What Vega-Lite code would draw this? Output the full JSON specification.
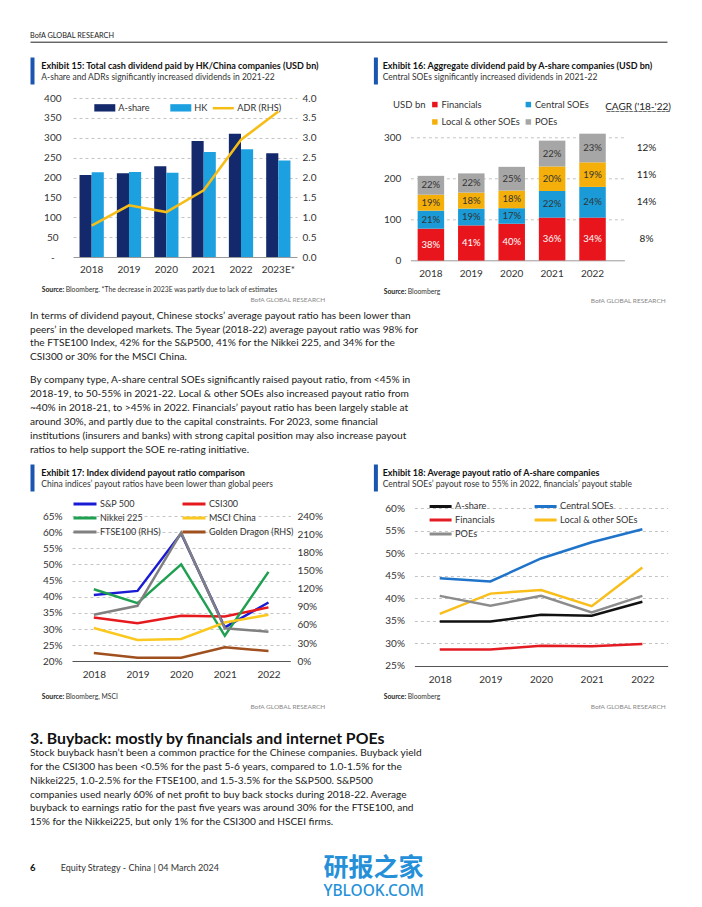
{
"$schema": "https://vega.github.io/schema/vega-lite/v6.json",
"background": "white",
"padding": {"left": 30, "top": 31, "right": 10, "bottom": 4},
"spacing": 0,
"resolve": {"scale": {"color": "independent", "stroke": "independent"}},
"config": {
  "font": "Lato",
  "view": {"stroke": null},
  "axis": {"labelFont": "Lato", "labelFontSize": 10, "labelColor": "#333333", "gridColor": "#c4c4c4", "gridDash": [3, 3], "gridWidth": 1},
  "legend": {"labelFont": "Lato", "labelFontSize": 9, "labelColor": "#333333", "padding": 0},
  "text": {"font": "Lato"},
  "concat": {"spacing": 0}
},
"vconcat": [
  {
    "width": 637, "height": 26,
    "data": {"values": [{"blk": "hdr", "ln": 1, "txt": "BofA GLOBAL RESEARCH"}]},
    "mark": {"type": "text", "align": "left", "baseline": "middle", "fontSize": 7.3, "color": "#222222"},
    "encoding": {
      "x": {"field": "blk", "type": "nominal", "scale": {"type": "point", "padding": 0, "align": 0},
            "axis": {"orient": "bottom", "title": null, "labels": false, "ticks": false, "grid": false, "domain": true, "domainColor": "#222222", "domainWidth": 1, "offset": -15.3}},
      "y": {"field": "ln", "type": "ordinal", "axis": null, "scale": {"type": "point", "padding": 0.5, "align": 0.204}},
      "text": {"field": "txt"}
    }
  },
  {
    "hconcat": [
      {
        "vconcat": [
          {
            "width": 295.3, "height": 27,
            "data": {"values": [{"ln": 1, "blk": "h", "txt": "Exhibit 15: Total cash dividend paid by HK/China companies (USD bn)"}, {"ln": 2, "blk": "h", "txt": "A-share and ADRs significantly increased dividends in 2021-22"}]},
            "encoding": {
              "x": {"field": "blk", "type": "nominal", "axis": null, "scale": {"type": "point", "padding": 0, "align": 0.0383}},
              "y": {"field": "ln", "type": "ordinal", "scale": {"type": "point", "padding": 0.695, "align": 0.554},
                    "axis": {"title": null, "labels": false, "ticks": false, "grid": false, "domain": true, "domainColor": "#1b55b0", "domainWidth": 4, "offset": -2, "minExtent": 0}},
              "text": {"field": "txt"}
            },
            "layer": [
              {"transform": [{"filter": "datum.ln === 1"}], "mark": {"type": "text", "align": "left", "baseline": "middle", "fontSize": 9, "fontWeight": "bold", "color": "#111111"}},
              {"transform": [{"filter": "datum.ln === 2"}], "mark": {"type": "text", "align": "left", "baseline": "middle", "fontSize": 8.5, "color": "#333333"}}
            ]
          },
          {
            "vconcat": [
              {
                "hconcat": [
                  {"width": 1, "height": 1, "data": {"values": []}, "mark": {"type": "text"}, "encoding": {}},
                  {
                    "width": 224, "height": 159,
                    "encoding": {
                      "x": {"field": "year", "type": "nominal", "scale": {"paddingInner": 0.35, "paddingOuter": 0.175},
                            "axis": {"title": null, "domain": false, "ticks": false, "labelAngle": 0, "labelPadding": 7, "minExtent": 20}}
                    },
                    "layer": [
                      {
                        "data": {"values": [
                          {"year": "2018", "series": "A-share", "value": 206}, {"year": "2018", "series": "HK", "value": 213},
                          {"year": "2019", "series": "A-share", "value": 211}, {"year": "2019", "series": "HK", "value": 214},
                          {"year": "2020", "series": "A-share", "value": 228}, {"year": "2020", "series": "HK", "value": 212},
                          {"year": "2021", "series": "A-share", "value": 292}, {"year": "2021", "series": "HK", "value": 264},
                          {"year": "2022", "series": "A-share", "value": 310}, {"year": "2022", "series": "HK", "value": 271},
                          {"year": "2023E*", "series": "A-share", "value": 261}, {"year": "2023E*", "series": "HK", "value": 243}
                        ]},
                        "mark": {"type": "bar"},
                        "encoding": {
                          "xOffset": {"field": "series", "type": "nominal", "scale": {"paddingInner": 0, "paddingOuter": 0}},
                          "y": {"field": "value", "type": "quantitative", "scale": {"domain": [0, 400]},
                                "axis": {"title": null, "values": [0, 50, 100, 150, 200, 250, 300, 350, 400], "labelExpr": "datum.value === 0 ? '-' : datum.label", "domain": false, "ticks": false, "labelAlign": "center", "labelPadding": 20.7, "minExtent": 41.7, "grid": true,
                                         "gridDash": {"condition": {"test": "datum.value === 0", "value": []}, "value": [3, 3]},
                                         "gridColor": {"condition": {"test": "datum.value === 0", "value": "#9a9a9a"}, "value": "#c4c4c4"}}},
                          "color": {"field": "series", "type": "nominal", "scale": {"domain": ["A-share", "HK"], "range": ["#13296b", "#1ca0e0"]},
                                    "legend": {"orient": "none", "legendX": 20.3, "legendY": -1.8, "direction": "horizontal", "title": null, "symbolType": "M-1,-0.35H1V0.35H-1Z", "symbolSize": 441, "labelOffset": 2, "columnPadding": 19, "labelFontSize": 9.2}}
                        }
                      },
                      {
                        "data": {"values": [
                          {"year": "2018", "line": "ADR (RHS)", "adr": 0.79}, {"year": "2019", "line": "ADR (RHS)", "adr": 1.30},
                          {"year": "2020", "line": "ADR (RHS)", "adr": 1.13}, {"year": "2021", "line": "ADR (RHS)", "adr": 1.68},
                          {"year": "2022", "line": "ADR (RHS)", "adr": 2.95}, {"year": "2023E*", "line": "ADR (RHS)", "adr": 3.66}
                        ]},
                        "mark": {"type": "line", "strokeWidth": 2.5},
                        "encoding": {
                          "y": {"field": "adr", "type": "quantitative", "scale": {"domain": [0, 4]},
                                "axis": {"orient": "right", "title": null, "values": [0, 0.5, 1, 1.5, 2, 2.5, 3, 3.5, 4], "format": ".1f", "domain": false, "ticks": false, "grid": false, "labelPadding": 5, "minExtent": 0}},
                          "stroke": {"field": "line", "type": "nominal", "scale": {"domain": ["ADR (RHS)"], "range": ["#f6bd16"]},
                                     "legend": {"orient": "none", "legendX": 138.3, "legendY": -1.8, "title": null, "symbolType": "stroke", "symbolSize": 441, "symbolStrokeWidth": 2.5, "labelOffset": 2, "labelFontSize": 9.2}}
                        }
                      }
                    ],
                    "resolve": {"scale": {"y": "independent"}}
                  }
                ],
                "spacing": 0,
                "resolve": {"scale": {"color": "independent", "stroke": "independent"}}
              },
              {
                "width": 295.3, "height": 27,
                "data": {"values": [{"part": "source", "label": "Source:", "txt": "Bloomberg. *The decrease in 2023E was partly due to lack of estimates"}, {"part": "brand", "label": "", "txt": "BofA GLOBAL RESEARCH"}]},
                "encoding": {
                  "x": {"field": "part", "type": "nominal", "sort": ["source", "brand"], "axis": null, "scale": {"type": "point", "padding": 0.0206, "align": 1}},
                  "y": {"field": "part", "type": "nominal", "sort": ["source", "brand"], "axis": null, "scale": {"type": "point", "padding": 0.7736, "align": 0.774}}
                },
                "layer": [
                  {"transform": [{"filter": "datum.part === 'source'"}], "mark": {"type": "text", "align": "left", "baseline": "middle", "fontSize": 6.8, "fontWeight": "bold", "color": "#222222"}, "encoding": {"text": {"field": "label"}}},
                  {"transform": [{"filter": "datum.part === 'source'"}], "mark": {"type": "text", "align": "left", "baseline": "middle", "fontSize": 6.8, "color": "#333333", "dx": 24}, "encoding": {"text": {"field": "txt"}}},
                  {"transform": [{"filter": "datum.part === 'brand'"}], "mark": {"type": "text", "align": "right", "baseline": "middle", "fontSize": 6.5, "color": "#888888"}, "encoding": {"text": {"field": "txt"}}}
                ]
              }
            ],
            "spacing": 0,
            "resolve": {"scale": {"color": "independent", "stroke": "independent"}}
          }
        ],
        "spacing": 9,
        "resolve": {"scale": {"color": "independent", "stroke": "independent"}}
      },
      {
        "vconcat": [
          {
            "width": 292.3, "height": 27,
            "data": {"values": [{"ln": 1, "blk": "h", "txt": "Exhibit 16: Aggregate dividend paid by A-share companies (USD bn)"}, {"ln": 2, "blk": "h", "txt": "Central SOEs significantly increased dividends in 2021-22"}]},
            "encoding": {
              "x": {"field": "blk", "type": "nominal", "axis": null, "scale": {"type": "point", "padding": 0, "align": 0.0318}},
              "y": {"field": "ln", "type": "ordinal", "scale": {"type": "point", "padding": 0.695, "align": 0.554},
                    "axis": {"title": null, "labels": false, "ticks": false, "grid": false, "domain": true, "domainColor": "#1b55b0", "domainWidth": 4, "offset": -2, "minExtent": 0}},
              "text": {"field": "txt"}
            },
            "layer": [
              {"transform": [{"filter": "datum.ln === 1"}], "mark": {"type": "text", "align": "left", "baseline": "middle", "fontSize": 9, "fontWeight": "bold", "color": "#111111"}},
              {"transform": [{"filter": "datum.ln === 2"}], "mark": {"type": "text", "align": "left", "baseline": "middle", "fontSize": 8.5, "color": "#333333"}}
            ]
          },
          {
            "vconcat": [
              {
                "hconcat": [
                  {"width": 1, "height": 1, "data": {"values": []}, "mark": {"type": "text"}, "encoding": {}},
                  {
                    "width": 214, "height": 143.3,
                    "data": {"values": [
                      {"year": "2018", "cat": "Financials", "ord": 1, "value": 78, "pct": "38%"},
                      {"year": "2018", "cat": "Central SOEs", "ord": 2, "value": 44, "pct": "21%"},
                      {"year": "2018", "cat": "Local & other SOEs", "ord": 3, "value": 39, "pct": "19%"},
                      {"year": "2018", "cat": "POEs", "ord": 4, "value": 46, "pct": "22%"},
                      {"year": "2019", "cat": "Financials", "ord": 1, "value": 86, "pct": "41%"},
                      {"year": "2019", "cat": "Central SOEs", "ord": 2, "value": 41, "pct": "19%"},
                      {"year": "2019", "cat": "Local & other SOEs", "ord": 3, "value": 39, "pct": "18%"},
                      {"year": "2019", "cat": "POEs", "ord": 4, "value": 47, "pct": "22%"},
                      {"year": "2020", "cat": "Financials", "ord": 1, "value": 90, "pct": "40%"},
                      {"year": "2020", "cat": "Central SOEs", "ord": 2, "value": 38, "pct": "17%"},
                      {"year": "2020", "cat": "Local & other SOEs", "ord": 3, "value": 43, "pct": "18%"},
                      {"year": "2020", "cat": "POEs", "ord": 4, "value": 58, "pct": "25%"},
                      {"year": "2021", "cat": "Financials", "ord": 1, "value": 105, "pct": "36%"},
                      {"year": "2021", "cat": "Central SOEs", "ord": 2, "value": 65, "pct": "22%"},
                      {"year": "2021", "cat": "Local & other SOEs", "ord": 3, "value": 60, "pct": "20%"},
                      {"year": "2021", "cat": "POEs", "ord": 4, "value": 63, "pct": "22%"},
                      {"year": "2022", "cat": "Financials", "ord": 1, "value": 105, "pct": "34%"},
                      {"year": "2022", "cat": "Central SOEs", "ord": 2, "value": 75, "pct": "24%"},
                      {"year": "2022", "cat": "Local & other SOEs", "ord": 3, "value": 60, "pct": "19%"},
                      {"year": "2022", "cat": "POEs", "ord": 4, "value": 70, "pct": "23%"}
                    ]},
                    "encoding": {
                      "x": {"field": "year", "type": "nominal", "scale": {"paddingInner": 0.344, "paddingOuter": 0.32, "align": 0.28},
                            "axis": {"title": null, "domain": false, "ticks": false, "labelAngle": 0, "labelPadding": 8.3, "minExtent": 20}}
                    },
                    "layer": [
                      {
                        "mark": {"type": "bar"},
                        "encoding": {
                          "y": {"field": "value", "type": "quantitative", "stack": "zero", "scale": {"domain": [0, 350]},
                                "axis": {"title": "USD bn", "titleAngle": 0, "titleAlign": "left", "titleBaseline": "middle", "titleX": -17.8, "titleY": -12.4, "titleFontWeight": "normal", "titleFontSize": 9.5, "titleColor": "#333333", "titleFont": "Lato",
                                         "values": [0, 50, 100, 150, 200, 250, 300, 350], "domain": false, "ticks": false, "labelPadding": 9.5, "minExtent": 35.8, "grid": true,
                                         "gridDash": {"condition": {"test": "datum.value === 0", "value": []}, "value": [3, 3]},
                                         "gridColor": {"condition": {"test": "datum.value === 0", "value": "#9a9a9a"}, "value": "#c4c4c4"}}},
                          "color": {"field": "cat", "type": "nominal", "scale": {"domain": ["Financials", "Central SOEs", "Local & other SOEs", "POEs"], "range": ["#e8161c", "#1a9bd7", "#f5af0a", "#a6a6a6"]},
                                    "legend": {"orient": "none", "legendX": 19.8, "legendY": -17.4, "columns": 2, "direction": "horizontal", "title": null, "symbolType": "square", "symbolSize": 30, "labelOffset": 2, "columnPadding": 3.5, "rowPadding": 7.4, "labelFontSize": 9.3}},
                          "order": {"field": "ord", "type": "quantitative"}
                        }
                      },
                      {
                        "mark": {"type": "text", "fontSize": 9.5, "baseline": "middle"},
                        "encoding": {
                          "y": {"field": "value", "type": "quantitative", "stack": "zero", "bandPosition": 0.5, "scale": {"domain": [0, 350]}},
                          "detail": {"field": "cat", "type": "nominal"},
                          "order": {"field": "ord", "type": "quantitative"},
                          "text": {"field": "pct"},
                          "color": {"condition": {"test": "datum.cat === 'Financials'", "value": "#ffffff"}, "value": "#333333"}
                        }
                      },
                      {
                        "transform": [
                          {"filter": "datum.year === '2022'"},
                          {"lookup": "cat", "from": {"data": {"values": [{"cat": "Financials", "cagr": "8%"}, {"cat": "Central SOEs", "cagr": "14%"}, {"cat": "Local & other SOEs", "cagr": "11%"}, {"cat": "POEs", "cagr": "12%"}]}, "key": "cat", "fields": ["cagr"]}}
                        ],
                        "mark": {"type": "text", "fontSize": 10, "baseline": "middle", "dx": 54, "color": "#222222"},
                        "encoding": {
                          "y": {"field": "value", "type": "quantitative", "stack": "zero", "bandPosition": 0.5, "scale": {"domain": [0, 350]}},
                          "detail": {"field": "cat", "type": "nominal"},
                          "order": {"field": "ord", "type": "quantitative"},
                          "text": {"field": "cagr"}
                        }
                      },
                      {
                        "data": {"values": [{"h": "CAGR ('18-'22)", "u": "______________"}]},
                        "mark": {"type": "text", "fontSize": 10, "baseline": "middle", "dx": 45.5, "color": "#222222"},
                        "encoding": {
                          "x": {"datum": "2022"},
                          "y": {"datum": 374.4, "type": "quantitative", "scale": {"domain": [0, 350]}},
                          "text": {"field": "h"}
                        }
                      },
                      {
                        "data": {"values": [{"h": "CAGR ('18-'22)", "u": "______________"}]},
                        "mark": {"type": "text", "fontSize": 10, "baseline": "middle", "dx": 45.5, "color": "#222222"},
                        "encoding": {
                          "x": {"datum": "2022"},
                          "y": {"datum": 374.4, "type": "quantitative", "scale": {"domain": [0, 350]}},
                          "text": {"field": "u"}
                        }
                      }
                    ]
                  }
                ],
                "spacing": 0,
                "resolve": {"scale": {"color": "independent", "stroke": "independent"}}
              },
              {
                "width": 292.3, "height": 24,
                "data": {"values": [{"part": "source", "label": "Source:", "txt": "Bloomberg"}, {"part": "brand", "label": "", "txt": "BofA GLOBAL RESEARCH"}]},
                "encoding": {
                  "x": {"field": "part", "type": "nominal", "sort": ["source", "brand"], "axis": null, "scale": {"type": "point", "padding": 0.01826, "align": 1}},
                  "y": {"field": "part", "type": "nominal", "sort": ["source", "brand"], "axis": null, "scale": {"type": "point", "padding": 0.737, "align": 0.72}}
                },
                "layer": [
                  {"transform": [{"filter": "datum.part === 'source'"}], "mark": {"type": "text", "align": "left", "baseline": "middle", "fontSize": 6.8, "fontWeight": "bold", "color": "#222222"}, "encoding": {"text": {"field": "label"}}},
                  {"transform": [{"filter": "datum.part === 'source'"}], "mark": {"type": "text", "align": "left", "baseline": "middle", "fontSize": 6.8, "color": "#333333", "dx": 24}, "encoding": {"text": {"field": "txt"}}},
                  {"transform": [{"filter": "datum.part === 'brand'"}], "mark": {"type": "text", "align": "right", "baseline": "middle", "fontSize": 6.5, "color": "#888888"}, "encoding": {"text": {"field": "txt"}}}
                ]
              }
            ],
            "spacing": 0,
            "resolve": {"scale": {"color": "independent", "stroke": "independent"}}
          }
        ],
        "spacing": 15.3,
        "resolve": {"scale": {"color": "independent", "stroke": "independent"}}
      }
    ],
    "spacing": 47.4,
    "resolve": {"scale": {"color": "independent", "stroke": "independent"}}
  },
  {
    "width": 400, "height": 59.7,
    "data": {"values": [
      {"ln": 1, "blk": "p1", "txt": "In terms of dividend payout, Chinese stocks’ average payout ratio has been lower than"},
      {"ln": 2, "blk": "p1", "txt": "peers’ in the developed markets. The 5year (2018-22) average payout ratio was 98% for"},
      {"ln": 3, "blk": "p1", "txt": "the FTSE100 Index, 42% for the S&P500, 41% for the Nikkei 225, and 34% for the"},
      {"ln": 4, "blk": "p1", "txt": "CSI300 or 30% for the MSCI China."}
    ]},
    "mark": {"type": "text", "align": "left", "baseline": "middle", "fontSize": 10.15, "color": "#1a1a1a"},
    "encoding": {
      "x": {"field": "blk", "type": "nominal", "axis": null, "scale": {"type": "point", "padding": 0, "align": 0}},
      "y": {"field": "ln", "type": "ordinal", "axis": null, "scale": {"type": "point", "padding": 0.6997, "align": 0.5266}},
      "text": {"field": "txt"}
    }
  },
  {
    "width": 400, "height": 98,
    "data": {"values": [
      {"ln": 1, "blk": "p2", "txt": "By company type, A-share central SOEs significantly raised payout ratio, from <45% in"},
      {"ln": 2, "blk": "p2", "txt": "2018-19, to 50-55% in 2021-22. Local & other SOEs also increased payout ratio from"},
      {"ln": 3, "blk": "p2", "txt": "~40% in 2018-21, to >45% in 2022. Financials’ payout ratio has been largely stable at"},
      {"ln": 4, "blk": "p2", "txt": "around 30%, and partly due to the capital constraints. For 2023, some financial"},
      {"ln": 5, "blk": "p2", "txt": "institutions (insurers and banks) with strong capital position may also increase payout"},
      {"ln": 6, "blk": "p2", "txt": "ratios to help support the SOE re-rating initiative."}
    ]},
    "mark": {"type": "text", "align": "left", "baseline": "middle", "fontSize": 10.15, "color": "#1a1a1a"},
    "encoding": {
      "x": {"field": "blk", "type": "nominal", "axis": null, "scale": {"type": "point", "padding": 0, "align": 0}},
      "y": {"field": "ln", "type": "ordinal", "axis": null, "scale": {"type": "point", "padding": 1.119, "align": 0.505}},
      "text": {"field": "txt"}
    }
  },
  {
    "hconcat": [
      {
        "vconcat": [
          {
            "width": 295.3, "height": 27,
            "data": {"values": [{"ln": 1, "blk": "h", "txt": "Exhibit 17: Index dividend payout ratio comparison"}, {"ln": 2, "blk": "h", "txt": "China indices’ payout ratios have been lower than global peers"}]},
            "encoding": {
              "x": {"field": "blk", "type": "nominal", "axis": null, "scale": {"type": "point", "padding": 0, "align": 0.0383}},
              "y": {"field": "ln", "type": "ordinal", "scale": {"type": "point", "padding": 0.695, "align": 0.554},
                    "axis": {"title": null, "labels": false, "ticks": false, "grid": false, "domain": true, "domainColor": "#1b55b0", "domainWidth": 4, "offset": -2, "minExtent": 0}},
              "text": {"field": "txt"}
            },
            "layer": [
              {"transform": [{"filter": "datum.ln === 1"}], "mark": {"type": "text", "align": "left", "baseline": "middle", "fontSize": 9, "fontWeight": "bold", "color": "#111111"}},
              {"transform": [{"filter": "datum.ln === 2"}], "mark": {"type": "text", "align": "left", "baseline": "middle", "fontSize": 8.5, "color": "#333333"}}
            ]
          },
          {
            "vconcat": [
              {
                "hconcat": [
                  {"width": 1, "height": 1, "data": {"values": []}, "mark": {"type": "text"}, "encoding": {}},
                  {
                    "width": 218.3, "height": 145.3,
                    "data": {"values": [
                      {"series": "S&P 500", "year": "2018", "v": 40.5}, {"series": "S&P 500", "year": "2019", "v": 41.8}, {"series": "S&P 500", "year": "2020", "v": 59.6}, {"series": "S&P 500", "year": "2021", "v": 30.5}, {"series": "S&P 500", "year": "2022", "v": 38.2},
                      {"series": "CSI300", "year": "2018", "v": 33.6}, {"series": "CSI300", "year": "2019", "v": 31.8}, {"series": "CSI300", "year": "2020", "v": 34.1}, {"series": "CSI300", "year": "2021", "v": 33.9}, {"series": "CSI300", "year": "2022", "v": 36.7},
                      {"series": "Nikkei 225", "year": "2018", "v": 42.3}, {"series": "Nikkei 225", "year": "2019", "v": 38.0}, {"series": "Nikkei 225", "year": "2020", "v": 50.0}, {"series": "Nikkei 225", "year": "2021", "v": 27.9}, {"series": "Nikkei 225", "year": "2022", "v": 47.7},
                      {"series": "MSCI China", "year": "2018", "v": 30.3}, {"series": "MSCI China", "year": "2019", "v": 26.6}, {"series": "MSCI China", "year": "2020", "v": 26.9}, {"series": "MSCI China", "year": "2021", "v": 32.0}, {"series": "MSCI China", "year": "2022", "v": 34.4},
                      {"series": "FTSE100 (RHS)", "year": "2018", "v": 76.9}, {"series": "FTSE100 (RHS)", "year": "2019", "v": 91.7}, {"series": "FTSE100 (RHS)", "year": "2020", "v": 212.5}, {"series": "FTSE100 (RHS)", "year": "2021", "v": 54.4}, {"series": "FTSE100 (RHS)", "year": "2022", "v": 48.9},
                      {"series": "Golden Dragon (RHS)", "year": "2018", "v": 13.7}, {"series": "Golden Dragon (RHS)", "year": "2019", "v": 6.0}, {"series": "Golden Dragon (RHS)", "year": "2020", "v": 6.0}, {"series": "Golden Dragon (RHS)", "year": "2021", "v": 23.1}, {"series": "Golden Dragon (RHS)", "year": "2022", "v": 17.0}
                    ]},
                    "encoding": {
                      "x": {"field": "year", "type": "ordinal", "scale": {"type": "point", "padding": 0.5},
                            "axis": {"title": null, "domain": false, "ticks": false, "labelAngle": 0, "labelPadding": 8.4, "minExtent": 20}},
                      "color": {"field": "series", "type": "nominal",
                                "scale": {"domain": ["S&P 500", "CSI300", "Nikkei 225", "MSCI China", "FTSE100 (RHS)", "Golden Dragon (RHS)"], "range": ["#1b1bd6", "#e6191e", "#1fa050", "#fac81e", "#808080", "#a0501e"]},
                                "legend": {"orient": "none", "legendX": 0, "legendY": -17, "columns": 2, "direction": "horizontal", "title": null, "symbolType": "stroke", "symbolSize": 529, "symbolStrokeWidth": 3, "labelOffset": 2, "columnPadding": 20, "rowPadding": 4, "clipHeight": 10, "labelFontSize": 9}}
                    },
                    "layer": [
                      {
                        "transform": [{"filter": "indexof(datum.series, 'RHS') < 0"}],
                        "mark": {"type": "line", "strokeWidth": 2.5},
                        "encoding": {
                          "y": {"field": "v", "type": "quantitative", "scale": {"domain": [20, 65]},
                                "axis": {"title": null, "values": [20, 25, 30, 35, 40, 45, 50, 55, 60, 65], "labelExpr": "datum.value + '%'", "domain": false, "ticks": false, "labelPadding": 10, "minExtent": 40.7, "grid": true,
                                         "gridDash": {"condition": {"test": "datum.value === 20", "value": []}, "value": [3, 3]},
                                         "gridColor": {"condition": {"test": "datum.value === 20", "value": "#555555"}, "value": "#c4c4c4"}}}
                        }
                      },
                      {
                        "transform": [{"filter": "indexof(datum.series, 'RHS') >= 0"}],
                        "mark": {"type": "line", "strokeWidth": 2.5},
                        "encoding": {
                          "y": {"field": "v", "type": "quantitative", "scale": {"domain": [0, 240]},
                                "axis": {"orient": "right", "title": null, "values": [0, 30, 60, 90, 120, 150, 180, 210, 240], "labelExpr": "datum.value + '%'", "domain": false, "ticks": false, "grid": false, "labelPadding": 6.7, "minExtent": 0}}
                        }
                      }
                    ],
                    "resolve": {"scale": {"y": "independent"}}
                  }
                ],
                "spacing": 0,
                "resolve": {"scale": {"color": "independent", "stroke": "independent"}}
              },
              {
                "width": 295.3, "height": 28.7,
                "data": {"values": [{"part": "source", "label": "Source:", "txt": "Bloomberg, MSCI"}, {"part": "brand", "label": "", "txt": "BofA GLOBAL RESEARCH"}]},
                "encoding": {
                  "x": {"field": "part", "type": "nominal", "sort": ["source", "brand"], "axis": null, "scale": {"type": "point", "padding": 0.0206, "align": 1}},
                  "y": {"field": "part", "type": "nominal", "sort": ["source", "brand"], "axis": null, "scale": {"type": "point", "padding": 0.995, "align": 0.806}}
                },
                "layer": [
                  {"transform": [{"filter": "datum.part === 'source'"}], "mark": {"type": "text", "align": "left", "baseline": "middle", "fontSize": 6.8, "fontWeight": "bold", "color": "#222222"}, "encoding": {"text": {"field": "label"}}},
                  {"transform": [{"filter": "datum.part === 'source'"}], "mark": {"type": "text", "align": "left", "baseline": "middle", "fontSize": 6.8, "color": "#333333", "dx": 24}, "encoding": {"text": {"field": "txt"}}},
                  {"transform": [{"filter": "datum.part === 'brand'"}], "mark": {"type": "text", "align": "right", "baseline": "middle", "fontSize": 6.5, "color": "#888888"}, "encoding": {"text": {"field": "txt"}}}
                ]
              }
            ],
            "spacing": 0,
            "resolve": {"scale": {"color": "independent", "stroke": "independent"}}
          }
        ],
        "spacing": 8,
        "resolve": {"scale": {"color": "independent", "stroke": "independent"}}
      },
      {
        "vconcat": [
          {
            "width": 292.3, "height": 27,
            "data": {"values": [{"ln": 1, "blk": "h", "txt": "Exhibit 18: Average payout ratio of A-share companies"}, {"ln": 2, "blk": "h", "txt": "Central SOEs’ payout rose to 55% in 2022, financials’ payout stable"}]},
            "encoding": {
              "x": {"field": "blk", "type": "nominal", "axis": null, "scale": {"type": "point", "padding": 0, "align": 0.0318}},
              "y": {"field": "ln", "type": "ordinal", "scale": {"type": "point", "padding": 0.695, "align": 0.554},
                    "axis": {"title": null, "labels": false, "ticks": false, "grid": false, "domain": true, "domainColor": "#1b55b0", "domainWidth": 4, "offset": -2, "minExtent": 0}},
              "text": {"field": "txt"}
            },
            "layer": [
              {"transform": [{"filter": "datum.ln === 1"}], "mark": {"type": "text", "align": "left", "baseline": "middle", "fontSize": 9, "fontWeight": "bold", "color": "#111111"}},
              {"transform": [{"filter": "datum.ln === 2"}], "mark": {"type": "text", "align": "left", "baseline": "middle", "fontSize": 8.5, "color": "#333333"}}
            ]
          },
          {
            "vconcat": [
              {
                "hconcat": [
                  {"width": 1, "height": 1, "data": {"values": []}, "mark": {"type": "text"}, "encoding": {}},
                  {
                    "width": 253.3, "height": 157.7,
                    "data": {"values": [
                      {"series": "A-share", "year": "2018", "v": 34.8}, {"series": "A-share", "year": "2019", "v": 34.8}, {"series": "A-share", "year": "2020", "v": 36.3}, {"series": "A-share", "year": "2021", "v": 36.1}, {"series": "A-share", "year": "2022", "v": 39.2},
                      {"series": "Central SOEs", "year": "2018", "v": 44.4}, {"series": "Central SOEs", "year": "2019", "v": 43.7}, {"series": "Central SOEs", "year": "2020", "v": 48.8}, {"series": "Central SOEs", "year": "2021", "v": 52.4}, {"series": "Central SOEs", "year": "2022", "v": 55.3},
                      {"series": "Financials", "year": "2018", "v": 28.6}, {"series": "Financials", "year": "2019", "v": 28.6}, {"series": "Financials", "year": "2020", "v": 29.4}, {"series": "Financials", "year": "2021", "v": 29.3}, {"series": "Financials", "year": "2022", "v": 29.8},
                      {"series": "Local & other SOEs", "year": "2018", "v": 36.5}, {"series": "Local & other SOEs", "year": "2019", "v": 41.0}, {"series": "Local & other SOEs", "year": "2020", "v": 41.8}, {"series": "Local & other SOEs", "year": "2021", "v": 38.2}, {"series": "Local & other SOEs", "year": "2022", "v": 46.8},
                      {"series": "POEs", "year": "2018", "v": 40.5}, {"series": "POEs", "year": "2019", "v": 38.3}, {"series": "POEs", "year": "2020", "v": 40.5}, {"series": "POEs", "year": "2021", "v": 36.8}, {"series": "POEs", "year": "2022", "v": 40.5}
                    ]},
                    "mark": {"type": "line", "strokeWidth": 2.5},
                    "encoding": {
                      "x": {"field": "year", "type": "ordinal", "scale": {"type": "point", "padding": 0.5},
                            "axis": {"title": null, "domain": false, "ticks": false, "labelAngle": 0, "labelPadding": 8.3, "minExtent": 20}},
                      "y": {"field": "v", "type": "quantitative", "scale": {"domain": [25, 60]},
                            "axis": {"title": null, "values": [25, 30, 35, 40, 45, 50, 55, 60], "labelExpr": "datum.value + '%'", "domain": false, "ticks": false, "labelPadding": 10, "minExtent": 39.6, "grid": true,
                                     "gridDash": {"condition": {"test": "datum.value === 25", "value": []}, "value": [3, 3]},
                                     "gridColor": {"condition": {"test": "datum.value === 25", "value": "#555555"}, "value": "#c4c4c4"}}},
                      "color": {"field": "series", "type": "nominal",
                                "scale": {"domain": ["A-share", "Central SOEs", "Financials", "Local & other SOEs", "POEs"], "range": ["#111111", "#1f74c9", "#e31b23", "#f9be1a", "#8c8c8c"]},
                                "legend": {"orient": "none", "legendX": 13.7, "legendY": -7, "columns": 2, "direction": "horizontal", "title": null, "symbolType": "stroke", "symbolSize": 484, "symbolStrokeWidth": 3, "labelOffset": 2, "columnPadding": 38, "rowPadding": 3, "clipHeight": 10, "labelFontSize": 9.2}}
                    }
                  }
                ],
                "spacing": 0,
                "resolve": {"scale": {"color": "independent", "stroke": "independent"}}
              },
              {
                "width": 292.3, "height": 24.3,
                "data": {"values": [{"part": "source", "label": "Source:", "txt": "Bloomberg"}, {"part": "brand", "label": "", "txt": "BofA GLOBAL RESEARCH"}]},
                "encoding": {
                  "x": {"field": "part", "type": "nominal", "sort": ["source", "brand"], "axis": null, "scale": {"type": "point", "padding": 0.01826, "align": 1}},
                  "y": {"field": "part", "type": "nominal", "sort": ["source", "brand"], "axis": null, "scale": {"type": "point", "padding": 0.766, "align": 0.748}}
                },
                "layer": [
                  {"transform": [{"filter": "datum.part === 'source'"}], "mark": {"type": "text", "align": "left", "baseline": "middle", "fontSize": 6.8, "fontWeight": "bold", "color": "#222222"}, "encoding": {"text": {"field": "label"}}},
                  {"transform": [{"filter": "datum.part === 'source'"}], "mark": {"type": "text", "align": "left", "baseline": "middle", "fontSize": 6.8, "color": "#333333", "dx": 24}, "encoding": {"text": {"field": "txt"}}},
                  {"transform": [{"filter": "datum.part === 'brand'"}], "mark": {"type": "text", "align": "right", "baseline": "middle", "fontSize": 6.5, "color": "#888888"}, "encoding": {"text": {"field": "txt"}}}
                ]
              }
            ],
            "spacing": 0,
            "resolve": {"scale": {"color": "independent", "stroke": "independent"}}
          }
        ],
        "spacing": 10,
        "resolve": {"scale": {"color": "independent", "stroke": "independent"}}
      }
    ],
    "spacing": 47.4,
    "resolve": {"scale": {"color": "independent", "stroke": "independent"}}
  },
  {
    "width": 400, "height": 36,
    "data": {"values": [{"ln": 1, "blk": "s3", "txt": "3.  Buyback: mostly by financials and internet POEs"}]},
    "mark": {"type": "text", "align": "left", "baseline": "middle", "fontSize": 15.8, "fontWeight": "bold", "color": "#111111"},
    "encoding": {
      "x": {"field": "blk", "type": "nominal", "axis": null, "scale": {"type": "point", "padding": 0, "align": 0}},
      "y": {"field": "ln", "type": "ordinal", "axis": null, "scale": {"type": "point", "padding": 0.5, "align": 0.778}},
      "text": {"field": "txt"}
    }
  },
  {
    "width": 400, "height": 81.8,
    "data": {"values": [
      {"ln": 1, "blk": "p3", "txt": "Stock buyback hasn’t been a common practice for the Chinese companies. Buyback yield"},
      {"ln": 2, "blk": "p3", "txt": "for the CSI300 has been <0.5% for the past 5-6 years, compared to 1.0-1.5% for the"},
      {"ln": 3, "blk": "p3", "txt": "Nikkei225, 1.0-2.5% for the FTSE100, and 1.5-3.5% for the S&P500. S&P500"},
      {"ln": 4, "blk": "p3", "txt": "companies used nearly 60% of net profit to buy back stocks during 2018-22. Average"},
      {"ln": 5, "blk": "p3", "txt": "buyback to earnings ratio for the past five years was around 30% for the FTSE100, and"},
      {"ln": 6, "blk": "p3", "txt": "15% for the Nikkei225, but only 1% for the CSI300 and HSCEI firms."}
    ]},
    "mark": {"type": "text", "align": "left", "baseline": "middle", "fontSize": 10.15, "color": "#1a1a1a"},
    "encoding": {
      "x": {"field": "blk", "type": "nominal", "axis": null, "scale": {"type": "point", "padding": 0, "align": 0}},
      "y": {"field": "ln", "type": "ordinal", "axis": null, "scale": {"type": "point", "padding": 0.464, "align": 0.492}},
      "text": {"field": "txt"}
    }
  },
  {
    "hconcat": [
      {
        "width": 26, "height": 45,
        "data": {"values": [{"ln": 1, "blk": "f", "txt": "6"}]},
        "mark": {"type": "text", "align": "left", "baseline": "middle", "fontSize": 9.5, "fontWeight": "bold", "color": "#111111"},
        "encoding": {
          "x": {"field": "blk", "type": "nominal", "axis": null, "scale": {"type": "point", "padding": 0, "align": 0}},
          "y": {"field": "ln", "type": "ordinal", "axis": null, "scale": {"type": "point", "padding": 0.5, "align": 0.876}},
          "text": {"field": "txt"}
        }
      },
      {
        "width": 257.3, "height": 45,
        "data": {"values": [{"ln": 1, "blk": "f", "txt": "Equity Strategy - China | 04 March 2024"}]},
        "mark": {"type": "text", "align": "left", "baseline": "middle", "fontSize": 9, "color": "#333333"},
        "encoding": {
          "x": {"field": "blk", "type": "nominal", "axis": null, "scale": {"type": "point", "padding": 0, "align": 0}},
          "y": {"field": "ln", "type": "ordinal", "axis": null, "scale": {"type": "point", "padding": 0.5, "align": 0.876}},
          "text": {"field": "txt"}
        }
      },
      {
        "width": 110, "height": 70,
        "data": {"values": [{"ln": 1, "blk": "w", "txt": "研报之家"}, {"ln": 2, "blk": "w", "txt": "YBLOOK.COM"}]},
        "encoding": {
          "x": {"field": "blk", "type": "nominal", "axis": null, "scale": {"type": "point", "padding": 0, "align": 0}},
          "y": {"field": "ln", "type": "ordinal", "axis": null, "scale": {"type": "point", "padding": 2.3, "align": 0.833}},
          "text": {"field": "txt"}
        },
        "layer": [
          {"transform": [{"filter": "datum.ln === 1"}], "mark": {"type": "text", "align": "left", "baseline": "middle", "font": "Noto Sans CJK SC", "fontSize": 25, "fontWeight": "bold", "color": "#2590d8"}},
          {"transform": [{"filter": "datum.ln === 2"}], "mark": {"type": "text", "align": "left", "baseline": "middle", "font": "Noto Sans", "fontSize": 15.5, "fontWeight": 500, "color": "#2590d8"}}
        ]
      }
    ],
    "spacing": 4.7
  }
]
}
